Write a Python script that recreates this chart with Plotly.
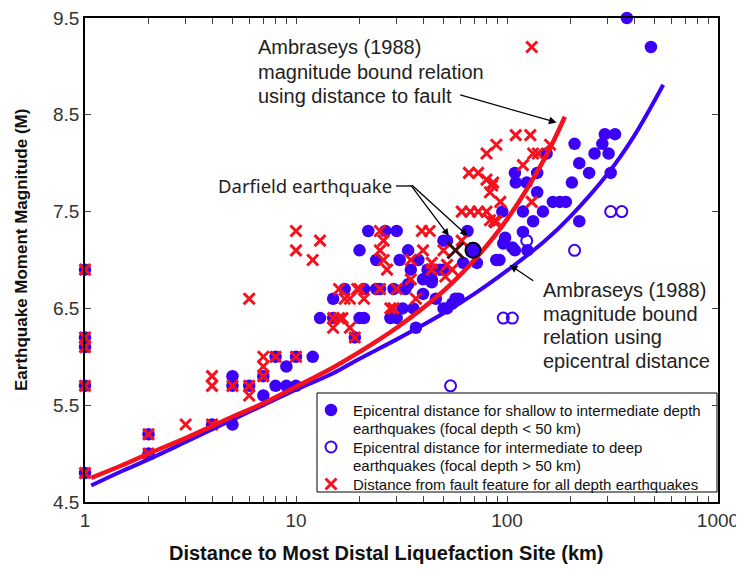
import math
import plotly.graph_objects as go

# epicentral distance, shallow to intermediate depth (filled circles)
shallow_dist = [1, 1, 1, 1, 1, 2, 2, 4, 5, 5, 5, 6, 7, 7, 8, 8, 9, 9, 10, 10, 12, 13,
                15, 15, 17, 19, 20, 20, 21, 22, 24, 25, 29, 28, 30, 31, 32, 33, 34, 34,
                35, 36, 37, 38, 40, 40, 42, 44, 50, 50, 50, 52, 52, 55, 57, 59, 62, 65,
                24, 21, 26.5, 30, 44, 46, 48, 72, 89, 96, 106,
                92, 95, 98, 109, 109, 110, 119, 119, 124, 125, 133, 139, 139, 148, 154,
                165, 178, 190, 203, 209, 220, 220, 245, 260, 283, 291, 303, 310, 325,
                370, 481]
shallow_mag = [6.9, 6.2, 6.1, 5.7, 4.8, 5.2, 5.0, 5.3, 5.8, 5.7, 5.3, 5.7, 5.8, 5.6, 6.0, 5.7, 5.9, 5.7, 6.0, 5.7, 6.0, 6.4,
               6.6, 6.4, 6.7, 6.2, 7.1, 6.4, 6.4, 7.3, 7.0, 6.7, 6.7, 6.4, 7.3, 7.0, 6.5, 6.7, 7.1, 6.75,
               6.9, 6.5, 6.3, 7.0, 6.8, 6.65, 6.9, 6.77, 7.2, 6.9, 6.5, 7.2, 6.5, 6.55, 6.6, 6.6, 6.97, 7.3,
               6.7, 6.7, 7.3, 6.4, 6.8, 6.6, 6.9, 6.97, 7.0, 7.17, 7.13,
               7.0, 7.5, 7.23, 7.9, 7.1, 7.8, 7.5, 7.29, 7.8, 7.1, 7.4, 7.9, 7.7, 7.5, 8.1,
               7.6, 7.6, 7.6, 7.8, 8.2, 8.0, 7.4, 7.9, 8.1, 8.2, 8.3, 8.1, 7.9, 8.3,
               9.5, 9.2]

# epicentral distance, intermediate to deep (open circles)
deep_dist = [54, 96, 106, 124, 209, 310, 350]
deep_mag = [5.7, 6.4, 6.4, 7.2, 7.1, 7.5, 7.5]

# distance from fault feature (crosses)
fault_dist = [1, 1, 1, 1, 1, 2, 2, 3, 4, 4, 4, 5, 6, 6, 6, 7, 7, 7, 8, 10, 10, 10,
              12, 13, 15, 15, 16, 16, 16.6, 17, 18, 18, 19, 19.5, 20, 21, 25, 25, 25, 26, 26,
              27, 28, 29, 30, 35, 35, 37, 39.5, 40, 43, 44, 44, 50, 51, 52, 55, 61, 61,
              66, 67, 73, 73, 80, 80, 80, 83, 83, 85, 86, 87, 88, 89, 89, 93,
              110, 119, 129, 131, 131, 133, 140, 160]
fault_mag = [6.9, 6.2, 6.1, 5.7, 4.8, 5.2, 5.0, 5.3, 5.3, 5.8, 5.7, 5.7, 5.7, 5.6, 6.6, 6.0, 5.9, 5.8, 6.0, 6.0, 7.3, 7.1,
             7.0, 7.2, 6.4, 6.3, 6.7, 6.4, 6.4, 6.6, 6.3, 6.6, 6.2, 6.7, 6.7, 6.6, 7.3, 7.1, 6.7, 7.2, 7.0,
             6.9, 6.5, 6.5, 6.7, 6.8, 7.0, 6.6, 7.3, 7.1, 7.3, 6.97, 6.9, 7.1, 6.83, 6.95, 6.9, 7.2, 7.5,
             7.9, 7.5, 7.9, 7.5, 8.1, 7.83, 7.5, 7.41, 7.7, 7.77, 7.8, 7.4, 7.39, 8.19, 7.4, 7.6,
             8.29, 7.98, 8.29, 9.2, 7.6, 8.1, 8.1, 8.19]

# Darfield earthquake
darfield_fault = [57]
darfield_epi = [69]
darfield_mag = [7.1]

# Ambraseys (1988) bound curves
bound_epi_dist = [1.07, 1.5, 2, 3, 5, 7, 10, 15, 20, 30, 50, 70, 100, 150, 200, 300, 400, 550]
bound_epi_mag = [4.67, 4.82, 4.94, 5.12, 5.35, 5.50, 5.66, 5.83, 5.98, 6.18, 6.45, 6.65, 6.89,
                 7.19, 7.45, 7.89, 8.28, 8.81]
bound_fault_dist = [1.07, 1.5, 2, 3, 5, 7, 10, 15, 20, 30, 50, 70, 100, 150, 188]
bound_fault_mag = [4.75, 4.88, 5.0, 5.16, 5.38, 5.52, 5.69, 5.89, 6.05, 6.30, 6.68, 7.0, 7.42,
                   8.04, 8.48]

fault_label = ['Ambraseys (1988)', 'magnitude bound relation', 'using distance to fault']
epi_label = ['Ambraseys (1988)', 'magnitude bound', 'relation using', 'epicentral distance']
legend_lines = ['Epicentral distance for shallow to intermediate depth',
                'earthquakes (focal depth < 50 km)',
                'Epicentral distance for intermediate to deep',
                'earthquakes (focal depth > 50 km)',
                'Distance from fault feature for all depth earthquakes']

BLUE = '#3c00f8'
RED = '#f5121e'
FONT = 'Liberation Sans, Arial, sans-serif'

filled = dict(symbol='circle', size=12.5, color=BLUE)
hollow = dict(symbol='circle-open', size=11, color=BLUE, line=dict(width=2, color=BLUE))
cross = dict(symbol='x-thin', size=11, color=RED, line=dict(width=3, color=RED))

fig = go.Figure()

fig.add_trace(go.Scatter(x=shallow_dist, y=shallow_mag, mode='markers', cliponaxis=False,
                         showlegend=False, marker=filled))
fig.add_trace(go.Scatter(x=deep_dist, y=deep_mag, mode='markers', cliponaxis=False,
                         showlegend=False, marker=hollow))
fig.add_trace(go.Scatter(x=fault_dist, y=fault_mag, mode='markers', cliponaxis=False,
                         showlegend=False, marker=cross))
fig.add_trace(go.Scatter(
    x=bound_epi_dist, y=bound_epi_mag, mode='lines', showlegend=False,
    line=dict(color=BLUE, width=4, shape='spline'),
))
fig.add_trace(go.Scatter(
    x=bound_fault_dist, y=bound_fault_mag, mode='lines', showlegend=False,
    line=dict(color=RED, width=4.5, shape='spline'),
))
fig.add_trace(go.Scatter(
    x=darfield_fault, y=darfield_mag, mode='markers', showlegend=False,
    marker=dict(symbol='x-thin', size=16, color='#3a1010', line=dict(width=3, color='#3a1010')),
))
fig.add_trace(go.Scatter(
    x=darfield_epi, y=darfield_mag, mode='markers', showlegend=False,
    marker=dict(symbol='circle', size=15, color=BLUE, line=dict(width=2, color='black')),
))

lg = math.log10
txt = dict(family=FONT, size=20, color='#222222')


def px(xp, yp):
    # reference pixel -> paper coordinates of the plot area (x 85..718, y 18..502)
    return (xp - 85) / 633, (502 - yp) / 484


# hand-made legend box (plotly's own legend spaces the lines too loosely)
bx0, by0 = px(317, 393)
bx1, by1 = px(717, 492)
fig.add_shape(type='rect', xref='paper', yref='paper', x0=bx0, x1=bx1, y0=by0, y1=by1,
              layer='below', fillcolor='white', line=dict(color='black', width=1))
for i, line in enumerate(legend_lines):
    x0, y0 = px(351, 410 + 18.5 * i)
    fig.add_annotation(xref='paper', yref='paper', x=x0, y=y0, xanchor='left', yanchor='middle',
                       showarrow=False, text=line,
                       font=dict(family=FONT, size=15, color='#111111'))
for k, mk in enumerate([filled, hollow, cross]):
    x0, y0 = px(331, 410 + 37 * k)
    fig.add_trace(go.Scatter(x=[x0], y=[y0], xaxis='x2', yaxis='y2', mode='markers',
                             showlegend=False, hoverinfo='skip', marker=mk))

fig.add_annotation(x=lg(172), y=8.42, ax=-98, ay=-28, text='',
                   showarrow=True, arrowhead=2, arrowsize=1.2, arrowwidth=1.3, arrowcolor='black')
for i, line in enumerate(fault_label):
    x0, y0 = px(256, 47 + 24.5 * i)
    fig.add_annotation(xref='paper', yref='paper', x=x0, y=y0, xanchor='left', yanchor='middle',
                       showarrow=False, font=txt, text=line)

fig.add_annotation(x=lg(103), y=6.95, ax=25, ay=17, text='',
                   showarrow=True, arrowhead=2, arrowsize=1.2, arrowwidth=1.3, arrowcolor='black')
for i, line in enumerate(epi_label):
    x0, y0 = px(541, 290 + 23.5 * i)
    fig.add_annotation(xref='paper', yref='paper', x=x0, y=y0, xanchor='left', yanchor='middle',
                       showarrow=False, font=txt, text=line)

x0, y0 = px(216, 186)
fig.add_annotation(xref='paper', yref='paper', x=x0, y=y0,
                   xanchor='left', yanchor='middle', showarrow=False,
                   font=dict(family='Noto Sans, sans-serif', size=18.5, color='#222222'),
                   text='Darfield earthquake')
xa, ya = px(396, 186)
xb, _ = px(411, 186)
fig.add_shape(type='line', xref='paper', yref='paper', x0=xa, x1=xb, y0=ya, y1=ya,
              line=dict(color='black', width=1.3))
fig.add_annotation(x=lg(53), y=7.25, ax=-39, ay=-52, text='',
                   showarrow=True, arrowhead=2, arrowsize=1.1, arrowwidth=1.3, arrowcolor='black')
fig.add_annotation(x=lg(65), y=7.25, ax=-57, ay=-52, text='',
                   showarrow=True, arrowhead=2, arrowsize=1.1, arrowwidth=1.3, arrowcolor='black')

# axis titles placed as annotations to match their off-centre positions
x0, y0 = px(386, 553)
fig.add_annotation(xref='paper', yref='paper', x=x0, y=y0, xanchor='center', yanchor='middle',
                   showarrow=False, text='<b>Distance to Most Distal Liquefaction Site (km)</b>',
                   font=dict(family=FONT, size=20, color='#111111'))
x0, y0 = px(22, 250)
fig.add_annotation(xref='paper', yref='paper', x=x0, y=y0, xanchor='center', yanchor='middle',
                   showarrow=False, textangle=-90, text='<b>Earthquake Moment Magnitude (M)</b>',
                   font=dict(family=FONT, size=17, color='#111111'))

xticks = [m * 10 ** e for e in range(3) for m in range(1, 10)] + [1000]
xtext = [str(v) if v in (1, 10, 100, 1000) else '' for v in xticks]

fig.update_xaxes(
    type='log', range=[0, 3], tickvals=xticks, ticktext=xtext, automargin=False,
    ticks='inside', ticklen=6, tickcolor='#444', showline=True, linecolor='black',
    linewidth=1.5, mirror='ticks', showgrid=False, zeroline=False, ticklabeloverflow='allow',
    tickfont=dict(family=FONT, size=19, color='#333'),
)
fig.update_yaxes(
    range=[4.5, 9.5], tickvals=[4.5, 5.5, 6.5, 7.5, 8.5, 9.5], automargin=False,
    ticktext=['4.5', '5.5', '6.5', '7.5', '8.5', '9.5'], ticklabeloverflow='allow',
    ticks='inside', ticklen=6, tickcolor='#444', showline=True, linecolor='black',
    linewidth=1.5, mirror='ticks', showgrid=False, zeroline=False,
    tickfont=dict(family=FONT, size=19, color='#333'),
)

# the page body adds an 8px offset, so the margins are shifted to compensate
fig.update_layout(
    width=744, height=571, autosize=False,
    margin=dict(l=77, r=34, t=10, b=77),
    plot_bgcolor='white', paper_bgcolor='white',
    showlegend=False,
    xaxis2=dict(range=[0, 1], overlaying='x', visible=False, fixedrange=True),
    yaxis2=dict(range=[0, 1], overlaying='y', visible=False, fixedrange=True),
)

fig.write_html("out.html")
